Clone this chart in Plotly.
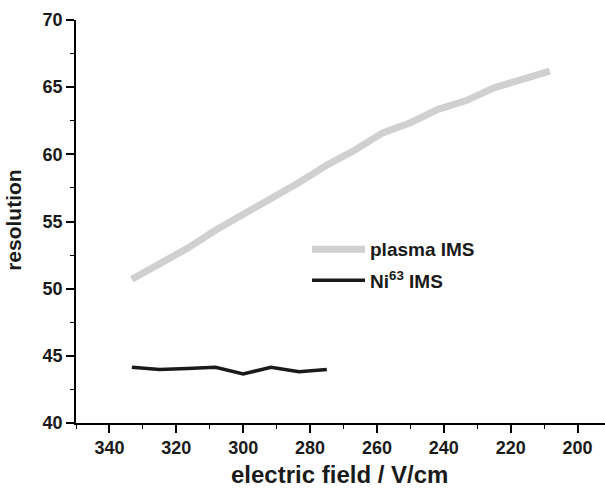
import plotly.graph_objects as go

# Data
plasma_field = [333.3, 325.0, 316.7, 308.3, 300.0, 291.7, 283.3, 275.0,
                266.7, 258.3, 250.0, 241.7, 233.3, 225.0, 216.7, 208.3]
plasma_res = [50.7, 51.8, 53.0, 54.35, 55.5, 56.7, 57.9, 59.2,
              60.3, 61.6, 62.35, 63.35, 64.0, 64.95, 65.55, 66.2]

ni_field = [333.3, 325.0, 316.7, 308.3, 300.0, 291.7, 283.3, 275.0]
ni_res = [44.15, 43.98, 44.05, 44.15, 43.65, 44.15, 43.82, 43.98]

plasma_name = "plasma IMS"
ni_name = "Ni<sup>63</sup> IMS"
x_title = "electric field / V/cm"
y_title = "resolution"

GREY = "#cfd0cf"
BLACK = "#1a1a1a"
FONT = "Liberation Sans"

fig = go.Figure()
fig.add_trace(go.Scatter(x=plasma_field, y=plasma_res, mode="lines",
                         line=dict(color=GREY, width=7), name=plasma_name))
fig.add_trace(go.Scatter(x=ni_field, y=ni_res, mode="lines",
                         line=dict(color=BLACK, width=3.5), name=ni_name))

axis_common = dict(
    showgrid=False, zeroline=False, showline=True, linecolor="black",
    linewidth=1.6, ticks="outside", ticklen=8, tickwidth=1.6,
    tickcolor="black",
    tickfont=dict(family=FONT, size=18, color="#1a1a1a", weight="bold"),
)

fig.update_xaxes(range=[350, 191.8], dtick=20, tick0=0,
                 minor=dict(dtick=10, ticks="outside", ticklen=4,
                            tickwidth=1.4, tickcolor="black"),
                 **axis_common)
fig.update_yaxes(range=[40, 70], dtick=5, tick0=0,
                 minor=dict(dtick=2.5, ticks="outside", ticklen=4,
                            tickwidth=1.4, tickcolor="black"),
                 **axis_common)

# manual legend (sample lines + labels)
L, W, B, H = 76, 529, 423.3, 403.3
def px(x):
    return (x - L) / W
def py(y):
    return (B - y) / H

legend_rows = [(plasma_name, GREY, 7, 249.5), (ni_name, BLACK, 3.5, 280.5)]
shapes = []
annotations = []
for name, col, w, ypix in legend_rows:
    shapes.append(dict(type="line", xref="paper", yref="paper",
                       x0=px(312), x1=px(365), y0=py(ypix), y1=py(ypix),
                       line=dict(color=col, width=w)))
    annotations.append(dict(text=name, xref="paper", yref="paper",
                            x=px(368), y=py(ypix), xanchor="left",
                            yanchor="middle", showarrow=False,
                            font=dict(family=FONT, size=19, color="#1a1a1a",
                                      weight="bold")))

annotations.append(dict(text=x_title, xref="paper", yref="paper",
                        x=px(339.5), y=py(474.5), xanchor="center",
                        yanchor="middle", showarrow=False,
                        font=dict(family=FONT, size=24, color="#1a1a1a",
                                  weight="bold")))
annotations.append(dict(text=y_title, xref="paper", yref="paper",
                        x=px(14), y=py(220), xanchor="center",
                        yanchor="middle", showarrow=False, textangle=-90,
                        font=dict(family=FONT, size=21, color="#1a1a1a",
                                  weight="bold")))

fig.update_layout(
    width=605, height=488,
    margin=dict(l=76, r=0, t=20, b=65),
    plot_bgcolor="white", paper_bgcolor="white",
    showlegend=False,
    shapes=shapes, annotations=annotations,
)

fig.write_html("out.html",
               config={"displayModeBar": False},
               post_script="document.body.style.margin='0';"
                           "document.body.style.overflow='hidden';")
